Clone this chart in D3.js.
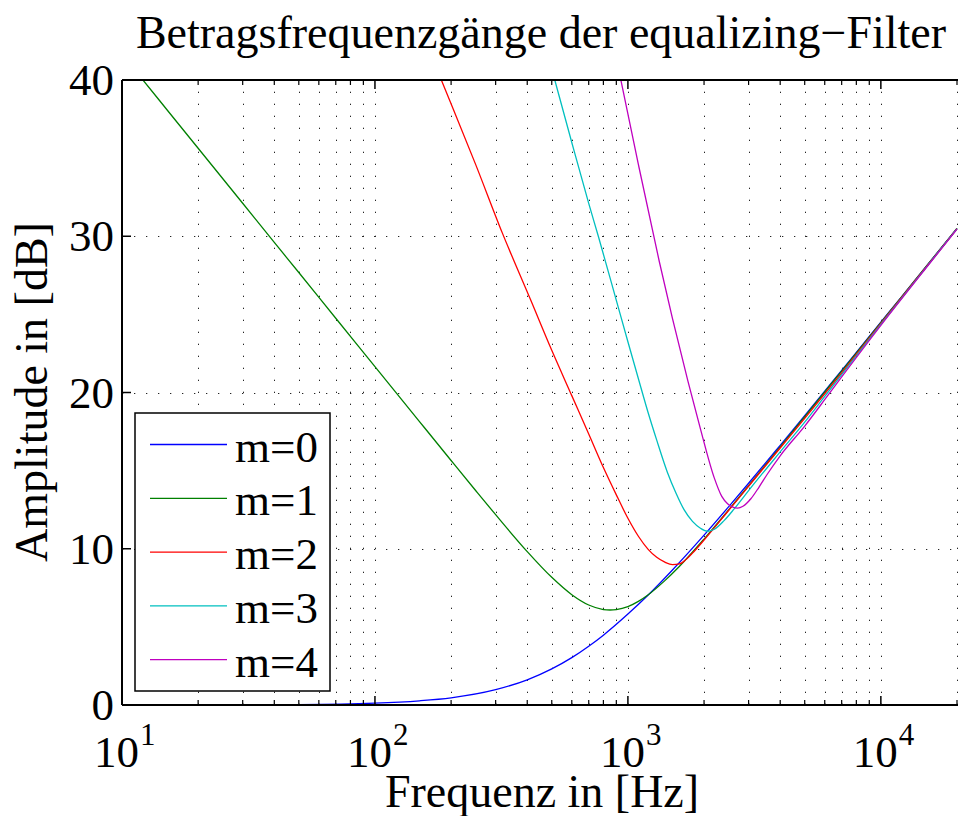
<!DOCTYPE html>
<html><head><meta charset="utf-8">
<script src="https://cdn.jsdelivr.net/npm/d3@7/dist/d3.min.js"></script>
<style>
body{margin:0;background:#fff}
svg{display:block}
text{font-family:"Liberation Serif","Times New Roman",serif;fill:#000}
</style>
</head><body>
<svg id="chart" width="958" height="816"></svg>
<script>
// ---- data ----
const seriesNames = ["m=0", "m=1", "m=2", "m=3", "m=4"];
const seriesColors = ["#0000ff", "#008000", "#ff0000", "#00bfbf", "#bf00bf"];

const freqM0 = [10, 20, 50, 100, 150, 200, 300, 400, 500, 600, 700, 800, 1000, 1200, 1500, 2000, 2500, 3000, 4000, 5000, 6000, 7000, 8000, 10000, 12000, 15000, 20000];
const ampM0  = [0.00, 0.01, 0.03, 0.12, 0.27, 0.46, 0.98, 1.61, 2.31, 3.03, 3.76, 4.47, 5.82, 7.02, 8.64, 10.87, 12.68, 14.19, 16.62, 18.52, 20.09, 21.41, 22.57, 24.50, 26.07, 28.01, 30.50];

const freqM1 = [10, 12, 15, 20, 30, 40, 50, 70, 100, 150, 200, 250, 300, 400, 500, 600, 700, 800, 850, 900, 1000, 1100, 1200, 1400, 1600, 2000, 2500, 3000, 4000, 5000, 7000, 10000, 15000, 20000];
const ampM1  = [41.66, 40.07, 38.13, 35.63, 32.11, 29.61, 27.68, 24.75, 21.66, 18.14, 15.65, 13.73, 12.18, 9.82, 8.17, 7.06, 6.40, 6.11, 6.08, 6.11, 6.30, 6.63, 7.04, 7.96, 8.88, 10.62, 12.48, 14.04, 16.52, 18.45, 21.37, 24.47, 28.00, 30.50];

const freqM2 = [150, 183, 250, 319, 412, 500, 600, 700, 800, 900, 1000, 1100, 1200, 1300, 1400, 1500, 1600, 1700, 1800, 2000, 2500, 3000, 4000, 5000, 7000, 10000, 15000, 20000];
const ampM2  = [43.45, 40.0, 34.6, 30.2, 25.95, 22.7, 19.8, 17.35, 15.2, 13.45, 11.95, 10.8, 9.98, 9.45, 9.14, 8.98, 9.03, 9.32, 9.72, 10.56, 12.45, 14.0, 16.45, 18.34, 21.25, 24.42, 27.97, 30.48];

const freqM3 = [450, 514, 600, 700, 764, 900, 1000, 1124, 1200, 1300, 1432, 1550, 1667, 1800, 1941, 2064, 2200, 2400, 2631, 3000, 4000, 5000, 6000, 7000, 10000, 15000, 20000];
const ampM3  = [43.45, 40.0, 36.0, 32.1, 30.0, 25.9, 23.25, 20.35, 18.75, 16.95, 14.9, 13.55, 12.5, 11.75, 11.3, 11.12, 11.25, 11.8, 12.55, 13.72, 16.2, 18.1, 19.75, 21.15, 24.36, 27.95, 30.47];

const freqM4 = [850, 938, 1100, 1330, 1500, 1729, 1941, 2193, 2350, 2478, 2600, 2716, 2850, 3063, 3300, 3566, 4000, 5000, 6067, 7000, 10000, 15000, 20000];
const ampM4  = [43.34, 40.0, 34.6, 28.4, 24.75, 20.7, 17.59, 14.55, 13.35, 12.88, 12.66, 12.6, 12.72, 13.2, 13.95, 14.8, 15.95, 17.85, 19.65, 21.0, 24.3, 27.92, 30.45];

const xTickValues = [10, 100, 1000, 10000];
const xTickExponents = ["1", "2", "3", "4"];
const yTickValues = [0, 10, 20, 30, 40];

const titleText = "Betragsfrequenzgänge der equalizing\u2212Filter";
const xLabelText = "Frequenz in [Hz]";
const yLabelText = "Amplitude in [dB]";

// ---- drawing ----
const svg = d3.select("#chart");
const L = 122, R = 957, T = 80, B = 705;

const x = d3.scaleLog().domain([10, 20000]).range([L, R]);
const y = d3.scaleLinear().domain([0, 40]).range([B, T]);

const series = [
  {f: freqM0, a: ampM0}, {f: freqM1, a: ampM1}, {f: freqM2, a: ampM2},
  {f: freqM3, a: ampM3}, {f: freqM4, a: ampM4}
].map((s, i) => ({name: seriesNames[i], color: seriesColors[i],
   pts: s.f.map((f, j) => [f, s.a[j]])}));

svg.append("defs").append("clipPath").attr("id", "clip")
  .append("rect").attr("x", L).attr("y", T).attr("width", R - L + 5).attr("height", B - T);

// minor tick positions
const minorTicks = [];
[10, 100, 1000, 10000].forEach(d => { for (let k = 2; k <= 9; k++) { if (k * d <= 20000) minorTicks.push(k * d); } });

// grid (dotted)
const grid = svg.append("g").attr("stroke", "#000").attr("stroke-width", 1)
  .attr("stroke-dasharray", "1.3 10.7").attr("opacity", 0.85);
minorTicks.concat(xTickValues.slice(1)).forEach(v => {
  const xx = Math.round(x(v)) + 0.5;
  grid.append("line").attr("x1", xx).attr("x2", xx).attr("y1", B).attr("y2", T);
});
yTickValues.slice(1, -1).forEach(v => {
  const yy = Math.round(y(v)) + 0.5;
  grid.append("line").attr("x1", L).attr("x2", 958).attr("y1", yy).attr("y2", yy);
});

// curves
const line = d3.line().x(d => x(d[0])).y(d => y(d[1])).curve(d3.curveMonotoneX);
const curves = svg.append("g").attr("clip-path", "url(#clip)");
series.forEach(s => {
  curves.append("path").attr("d", line(s.pts)).attr("fill", "none")
    .attr("stroke", s.color).attr("stroke-width", 1.3);
});

// axes box lines
const ax = svg.append("g").attr("stroke", "#000");
ax.append("line").attr("x1", L).attr("x2", 958).attr("y1", B).attr("y2", B).attr("stroke-width", 2);
ax.append("line").attr("x1", L).attr("x2", 958).attr("y1", T).attr("y2", T).attr("stroke-width", 2);
ax.append("line").attr("x1", L).attr("x2", L).attr("y1", T).attr("y2", B).attr("stroke-width", 2);

// ticks (inside)
xTickValues.forEach(v => {
  const xx = x(v);
  ax.append("line").attr("x1", xx).attr("x2", xx).attr("y1", B).attr("y2", B - 9).attr("stroke-width", 1.5);
  ax.append("line").attr("x1", xx).attr("x2", xx).attr("y1", T).attr("y2", T + 9).attr("stroke-width", 1.5);
});
minorTicks.forEach(v => {
  const xx = x(v);
  ax.append("line").attr("x1", xx).attr("x2", xx).attr("y1", B).attr("y2", B - 5).attr("stroke-width", 1.2);
  ax.append("line").attr("x1", xx).attr("x2", xx).attr("y1", T).attr("y2", T + 5).attr("stroke-width", 1.2);
});
yTickValues.forEach(v => {
  const yy = y(v);
  ax.append("line").attr("x1", L).attr("x2", L + 9).attr("y1", yy).attr("y2", yy).attr("stroke-width", 1.5);
});

// tick labels
const fs = 45;
yTickValues.forEach(v => {
  svg.append("text").attr("x", 114).attr("y", y(v) + 15).attr("text-anchor", "end")
    .attr("font-size", fs).text(v);
});
xTickValues.forEach((v, i) => {
  const t = svg.append("text").attr("x", x(v) - 28).attr("y", 767).attr("font-size", fs);
  t.append("tspan").text("10");
  t.append("tspan").attr("font-size", 31).attr("dy", -22).attr("dx", 1).text(xTickExponents[i]);
});

// title & labels
svg.append("text").attr("x", 541).attr("y", 48).attr("text-anchor", "middle").attr("font-size", 46).text(titleText);
svg.append("text").attr("x", 542).attr("y", 807).attr("text-anchor", "middle").attr("font-size", 46).text(xLabelText);
svg.append("text").attr("transform", "translate(47,392) rotate(-90)").attr("text-anchor", "middle").attr("font-size", 46).text(yLabelText);

// legend
const lg = svg.append("g");
lg.append("rect").attr("x", 135).attr("y", 413).attr("width", 195).attr("height", 278)
  .attr("fill", "#fff").attr("stroke", "#000").attr("stroke-width", 1.5);
series.forEach((s, i) => {
  const ly = 444.5 + i * 53.8;
  lg.append("line").attr("x1", 150).attr("x2", 227).attr("y1", ly).attr("y2", ly)
    .attr("stroke", s.color).attr("stroke-width", 1.3);
  lg.append("text").attr("x", 235).attr("y", ly + 17).attr("font-size", fs).text(s.name);
});
</script>
</body></html>
